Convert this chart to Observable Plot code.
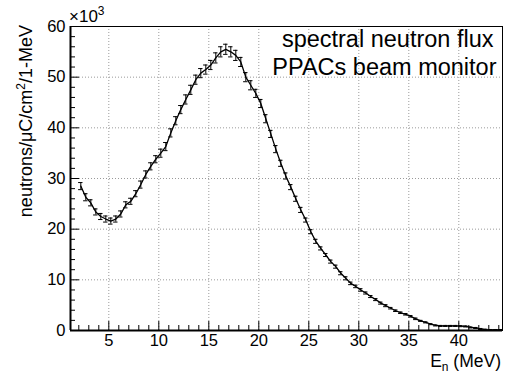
<!DOCTYPE html>
<html><head><meta charset="utf-8">
<script src="https://cdn.jsdelivr.net/npm/d3@7"></script>
<script src="https://cdn.jsdelivr.net/npm/@observablehq/plot@0.6"></script>
<style>html,body{margin:0;padding:0;background:#fff} svg{display:block}</style>
</head><body><div id="chart"></div>
<script>
// neutron energy bin centres (MeV)
const energy = [2.2,2.7,3.2,3.7,4.2,4.7,5.2,5.7,6.2,6.7,7.2,7.7,8.2,8.7,9.2,9.7,10.2,10.7,11.2,11.7,12.2,12.7,13.2,13.7,14.2,14.7,15.2,15.7,16.2,16.7,17.2,17.7,18.2,18.7,19.2,19.7,20.2,20.7,21.2,21.7,22.2,22.7,23.2,23.7,24.2,24.7,25.2,25.7,26.2,26.7,27.2,27.7,28.2,28.7,29.2,29.7,30.2,30.7,31.2,31.7,32.2,32.7,33.2,33.7,34.2,34.7,35.2,35.7,36.2,36.7,37.2,37.7,38.2,38.7,39.2,39.7,40.2,40.7,41.2,41.7,42.2,42.7,43.2,43.7,44.2];
// spectral flux (x10^3 neutrons/uC/cm2/1-MeV)
const flux = [28.5,26.3,25.2,23.4,22.5,22.0,21.6,22.0,23.0,24.8,25.5,27.0,28.8,30.8,32.4,33.8,35.0,36.3,39.0,41.4,43.6,45.6,47.5,49.5,50.8,51.5,52.4,53.8,55.0,55.5,55.0,54.3,53.0,50.0,48.4,46.8,44.8,41.8,38.8,35.8,33.0,30.5,28.3,26.0,23.8,21.8,19.5,17.6,16.2,14.9,13.6,12.6,11.3,10.3,9.3,8.7,8.0,7.4,6.7,6.1,5.4,4.9,4.4,3.9,3.5,3.2,2.8,2.3,1.9,1.6,1.25,1.0,0.9,0.9,0.9,0.9,0.85,0.8,0.6,0.5,0.3,0.15,0.1,0.1,0.1];
// statistical errors (x10^3)
const fluxErr = [0.7,0.7,0.6,0.6,0.6,0.6,0.6,0.6,0.6,0.6,0.6,0.6,0.7,0.7,0.7,0.7,0.8,0.8,0.8,0.8,0.8,0.9,0.9,0.9,0.9,0.9,0.9,1.0,1.0,1.0,1.0,1.0,0.9,0.9,0.9,0.8,0.8,0.8,0.7,0.7,0.6,0.6,0.5,0.5,0.5,0.4,0.4,0.4,0.3,0.3,0.3,0.3,0.3,0.3,0.25,0.25,0.25,0.2,0.2,0.2,0.2,0.2,0.15,0.15,0.15,0.15,0.15,0.15,0.1,0.1,0.1,0.1,0.1,0.1,0.1,0.1,0.1,0.1,0.1,0.1,0.1,0.1,0.1,0.1,0.1];

const xTicks = [5,10,15,20,25,30,35,40];
const xMinor = [2,3,4,6,7,8,9,11,12,13,14,16,17,18,19,21,22,23,24,26,27,28,29,31,32,33,34,36,37,38,39,41,42,43,44];
const yTicks = [0,10,20,30,40,50,60];
const yMinor = [2,4,6,8,12,14,16,18,22,24,26,28,32,34,36,38,42,44,46,48,52,54,56,58];
const gridX = [5,10,15,20,25,30,35,40];
const gridY = [10,20,30,40,50];
const titleLines = ["spectral neutron flux", "PPACs beam monitor"];

const data = energy.map((e, i) => ({E: e, v: flux[i], err: fluxErr[i]}));

const W = 512, H = 372, mL = 70, mR = 10, mT = 26, mB = 42;
const pw = W - mL - mR, ph = H - mT - mB;
const font = "Liberation Sans, Arial, Helvetica, sans-serif";

const chart = Plot.plot({
  width: W, height: H,
  marginLeft: mL, marginRight: mR, marginTop: mT, marginBottom: mB,
  x: {domain: [1.17, 44.37]},
  y: {domain: [0, 60]},
  style: {fontFamily: font, fontSize: "16px", color: "black", background: "white"},
  marks: [
    Plot.ruleX(gridX, {x: d => d, stroke: "#9a9a9a", strokeDasharray: "1,2", strokeWidth: 1}),
    Plot.ruleY(gridY, {y: d => d, stroke: "#9a9a9a", strokeDasharray: "1,2", strokeWidth: 1}),
    Plot.frame({stroke: "black", strokeWidth: 1}),
    Plot.tickX(xTicks, {x: d => d, insetTop: ph - 9, stroke: "black", strokeWidth: 1}),
    Plot.tickX(xMinor, {x: d => d, insetTop: ph - 5, stroke: "black", strokeWidth: 1}),
    Plot.tickY(yTicks, {y: d => d, insetRight: pw - 9, stroke: "black", strokeWidth: 1}),
    Plot.tickY(yMinor, {y: d => d, insetRight: pw - 5, stroke: "black", strokeWidth: 1}),
    Plot.ruleX([0], {x: () => 1.17, stroke: "black", strokeWidth: 2}),
    Plot.ruleY([0], {stroke: "black", strokeWidth: 2}),
    Plot.axisX({ticks: xTicks, tickSize: 0, tickPadding: 4, fontSize: 16.5, label: null}),
    Plot.axisY({ticks: yTicks, tickSize: 0, tickPadding: 5, fontSize: 16.5, label: null}),
    Plot.ruleX(data, {x: "E", y1: d => d.v - d.err, y2: d => d.v + d.err, stroke: "black", strokeWidth: 1}),
    Plot.ruleY(data, {y: d => d.v + d.err, x1: d => d.E - 0.22, x2: d => d.E + 0.22, stroke: "black", strokeWidth: 1}),
    Plot.ruleY(data, {y: d => d.v - d.err, x1: d => d.E - 0.22, x2: d => d.E + 0.22, stroke: "black", strokeWidth: 1}),
    Plot.line(data, {x: "E", y: "v", stroke: "black", strokeWidth: 1.3}),
    Plot.text([titleLines[0]], {text: d => d, frameAnchor: "top-right", textAnchor: "end", lineAnchor: "bottom", dx: -9, dy: 20, fontSize: 23.5, fontFamily: font, fill: "black"}),
    Plot.text([titleLines[1]], {text: d => d, frameAnchor: "top-right", textAnchor: "end", lineAnchor: "bottom", dx: -6, dy: 48, fontSize: 23.5, fontFamily: font, fill: "black"})
  ]
});

const svg = d3.select(chart);
// y-axis title with superscript
const yl = svg.append("text")
  .attr("transform", "translate(32,25) rotate(-90)")
  .attr("text-anchor", "end")
  .attr("font-family", font).attr("font-size", 18).attr("fill", "black");
yl.append("tspan").text("neutrons/\u03bcC/cm");
yl.append("tspan").attr("font-size", 12).attr("dy", -7).text("2");
yl.append("tspan").attr("dy", 7).text("/1-MeV");
// x-axis title with subscript
const xl = svg.append("text")
  .attr("x", 501).attr("y", 366.5)
  .attr("text-anchor", "end")
  .attr("font-family", font).attr("font-size", 17.5).attr("fill", "black");
xl.append("tspan").text("E");
xl.append("tspan").attr("font-size", 12).attr("dy", 4).text("n");
xl.append("tspan").attr("dy", -4).text(" (MeV)");
// exponent marker
const ex = svg.append("text")
  .attr("x", 69).attr("y", 22)
  .attr("text-anchor", "start")
  .attr("font-family", font).attr("font-size", 17).attr("fill", "black");
ex.append("tspan").text("\u00d710");
ex.append("tspan").attr("font-size", 12).attr("dy", -7).text("3");

document.getElementById("chart").appendChild(chart);
</script>
</body></html>
